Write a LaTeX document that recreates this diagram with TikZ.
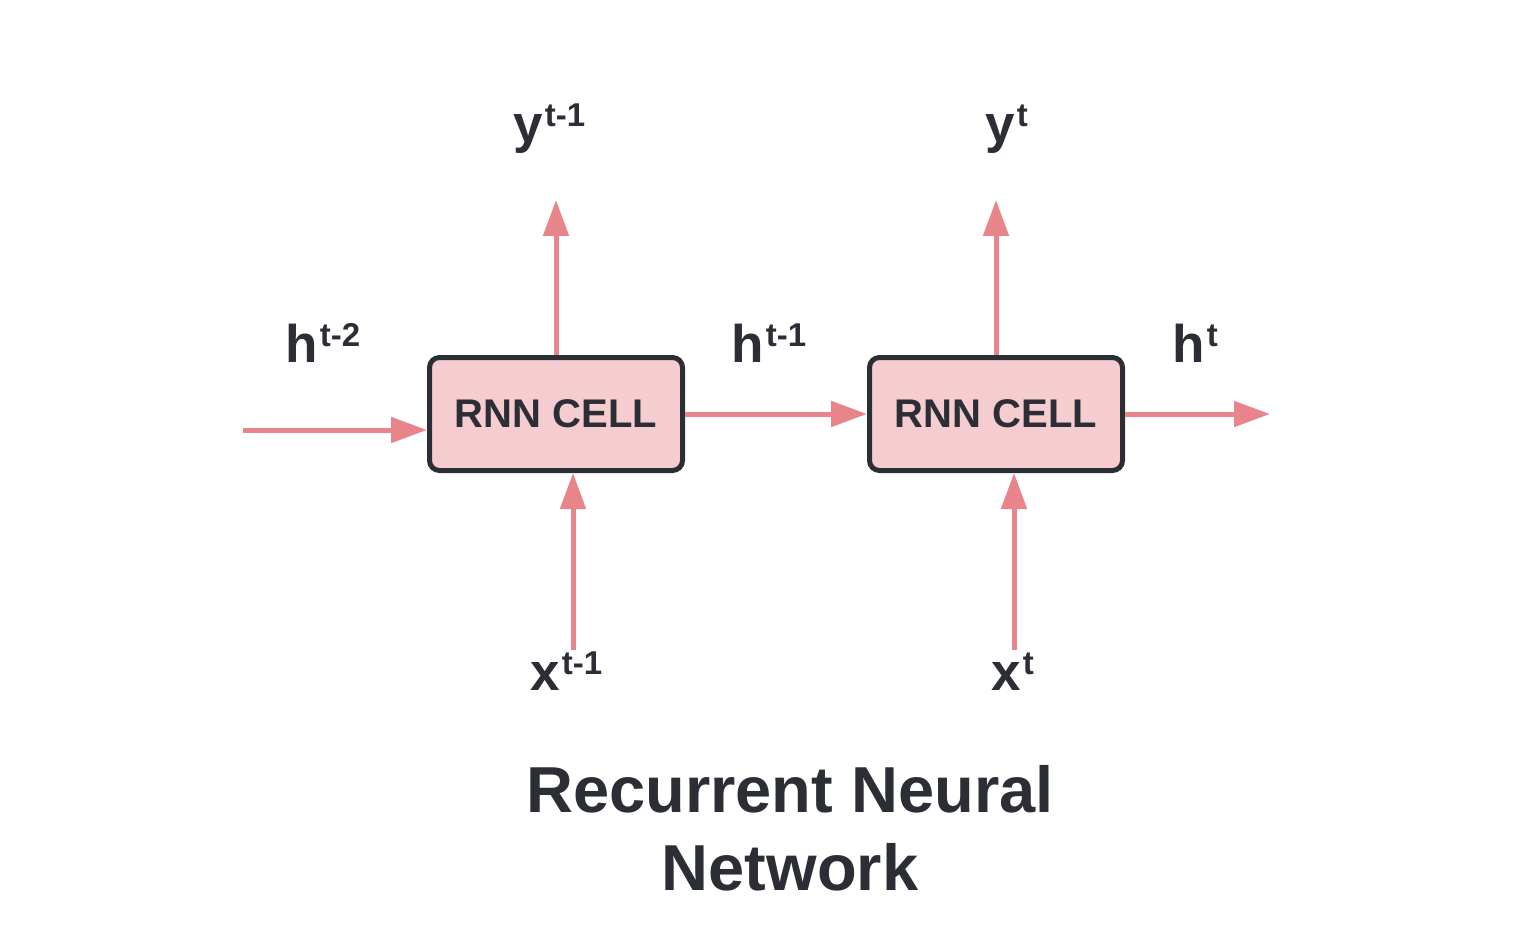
\documentclass[tikz,border=0pt]{standalone}
\usepackage{fontspec}
\setmainfont{Liberation Sans}
\usetikzlibrary{arrows.meta}
\definecolor{arrowred}{HTML}{E8858A}
\definecolor{cellpink}{HTML}{F5CDD0}
\definecolor{inkdark}{HTML}{2B2E34}
\newcommand{\supx}[1]{\kern1pt\raisebox{8pt}{\fontsize{16.5}{16.5}\selectfont #1}}

\begin{document}
\begin{tikzpicture}[x=0.5pt,y=-0.5pt,
    cell/.style={draw=inkdark,line width=2.5pt,fill=cellpink,rounded corners=5pt,
        minimum width=126.5pt,minimum height=56.5pt,inner sep=0pt,text=inkdark,
        font=\fontsize{20}{22}\selectfont\bfseries},
    lbl/.style={inner sep=0pt,text=inkdark,font=\fontsize{26.5}{28}\selectfont\bfseries},
    flow/.style={draw=arrowred,line width=2.5pt,-{Triangle[length=18pt,width=12.5pt]}}]
                \useasboundingbox (0,0) rectangle (1536,936);
                \node[cell] (cellA) at (556,414) {RNN CELL};
                \node[cell] (cellB) at (996,414) {RNN CELL};
                \coordinate (hin) at (243,430);
                \coordinate (hout) at (1270,414);
                \coordinate (yA) at (556,200);
                \coordinate (yB) at (996,200);
                \coordinate (xA) at (573,650);
                \coordinate (xB) at (1014,650);
                \draw[flow] (hin)--(hin -| cellA.west);
                \draw[flow] (cellA.east)--(cellB.west);
                \draw[flow] (cellB.east)--(hout);
                \draw[flow] (cellA.north)--(yA);
                \draw[flow] (cellB.north)--(yB);
                \draw[flow] (xA)--(xA |- cellA.south);
                \draw[flow] (xB)--(xB |- cellB.south);
                \node[lbl,anchor=base west] (hlabA) at (285,362) {h\supx{t-2}};
                \node[lbl,anchor=base west] (hlabB) at (731,362) {h\supx{t-1}};
                \node[lbl,anchor=base west] (hlabC) at (1172,362) {h\supx{t}};
                \node[lbl,anchor=base west] (ylabA) at (513,143) {y\supx{t-1}};
                \node[lbl,anchor=base west] (ylabB) at (985,143) {y\supx{t}};
                \node[lbl,anchor=base west] (xlabA) at (530,690) {x\supx{t-1}};
                \node[lbl,anchor=base west] (xlabB) at (991,690) {x\supx{t}};
                \node[lbl,anchor=base,font=\fontsize{32.5}{36}\selectfont\bfseries] (titleA) at (790,812) {Recurrent Neural};
                \node[lbl,anchor=base,font=\fontsize{32.5}{36}\selectfont\bfseries] (titleB) at (790,890) {Network};
            \end{tikzpicture}
\end{document}
